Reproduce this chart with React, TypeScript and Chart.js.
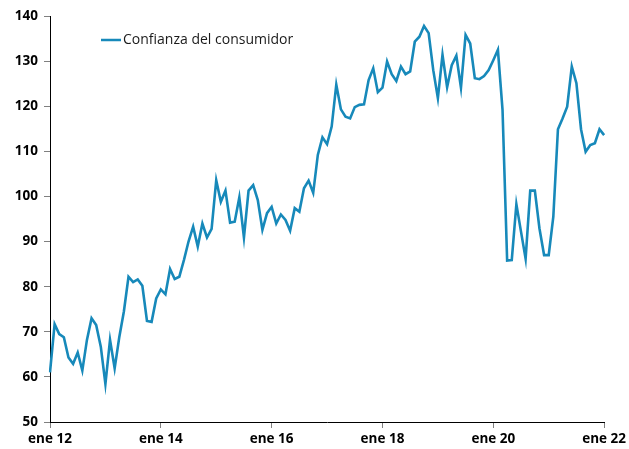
import React, { useEffect, useRef } from "react";
import { Chart, registerables } from "chart.js";

Chart.register(...registerables);

const MONTHS = ["ene", "feb", "mar", "abr", "may", "jun", "jul", "ago", "sep", "oct", "nov", "dic"];
const YEARS = [12, 13, 14, 15, 16, 17, 18, 19, 20, 21, 22];

const v2012 = [61.0, 71.7, 69.5, 68.8, 64.3, 62.9, 65.4, 61.4, 68.2, 73.0, 71.5, 66.7];
const v2013 = [58.4, 68.2, 61.9, 68.8, 74.5, 82.2, 81.0, 81.6, 80.2, 72.4, 72.2, 77.4];
const v2014 = [79.4, 78.3, 83.9, 81.7, 82.2, 85.9, 90.0, 93.3, 88.9, 94.0, 90.9, 92.8];
const v2015 = [103.6, 98.8, 101.3, 94.2, 94.4, 99.8, 90.9, 101.3, 102.5, 99.2, 92.6, 96.3];
const v2016 = [97.7, 94.0, 96.0, 94.8, 92.4, 97.4, 96.6, 101.8, 103.5, 100.8, 109.2, 113.1];
const v2017 = [111.6, 115.5, 124.8, 119.3, 117.7, 117.3, 119.8, 120.3, 120.4, 125.8, 128.4, 123.1];
const v2018 = [124.1, 129.9, 127.1, 125.6, 128.8, 127.1, 127.7, 134.3, 135.4, 137.8, 136.2, 128.0];
const v2019 = [121.8, 131.4, 124.2, 129.1, 131.2, 124.1, 135.8, 133.9, 126.2, 126.0, 126.7, 128.0];
const v2020 = [130.2, 132.5, 119.2, 85.8, 85.9, 98.3, 92.2, 86.2, 101.3, 101.3, 92.9, 87.0];
const v2021 = [87.0, 95.5, 114.9, 117.3, 119.9, 128.8, 125.1, 114.9, 109.9, 111.4, 111.8, 114.9];
const v2022 = [113.6];

const SERIES_LABEL = "Confianza del consumidor";
const LINE_COLOR = "#1789BA";

const values = [
  ...v2012, ...v2013, ...v2014, ...v2015, ...v2016, ...v2017,
  ...v2018, ...v2019, ...v2020, ...v2021, ...v2022,
];

const categories: string[] = [];
YEARS.forEach((y) => {
  MONTHS.forEach((m) => {
    if (categories.length < values.length) categories.push(`${m} ${y}`);
  });
});

const TICK_EVERY = 24;
const Y_MIN = 50;
const Y_MAX = 140;
const Y_STEP = 10;

const FONT = "'Open Sans', 'Liberation Sans', sans-serif";

const legendPlugin = {
  id: "customLegend",
  afterDraw(chart: any) {
    const ctx = chart.ctx;
    const ds = chart.data.datasets[0];
    ctx.save();
    ctx.strokeStyle = ds.borderColor;
    ctx.lineWidth = 2.5;
    ctx.beginPath();
    ctx.moveTo(101, 40);
    ctx.lineTo(121, 40);
    ctx.stroke();
    ctx.fillStyle = "#1a1a1a";
    ctx.font = `14px ${FONT}`;
    ctx.textBaseline = "middle";
    ctx.textAlign = "left";
    ctx.fillText(ds.label, 123, 40);
    ctx.restore();
  },
};

export default function App() {
  const ref = useRef<HTMLCanvasElement | null>(null);

  useEffect(() => {
    document.body.style.margin = "0";
    const canvas = ref.current;
    if (!canvas) return;
    const chart = new Chart(canvas, {
      type: "line",
      data: {
        labels: categories,
        datasets: [
          {
            label: SERIES_LABEL,
            data: values,
            borderColor: LINE_COLOR,
            backgroundColor: LINE_COLOR,
            borderWidth: 2.6,
            pointRadius: 0,
            tension: 0,
            fill: false,
          },
        ],
      },
      options: {
        animation: false,
        responsive: false,
        maintainAspectRatio: false,
        layout: { padding: { left: 0, top: 16, right: 22, bottom: 0 } },
        plugins: {
          legend: { display: false },
          tooltip: { enabled: false },
        },
        scales: {
          x: {
            type: "category",
            offset: false,
            border: { display: true, color: "#000", width: 1 },
            grid: {
              display: true,
              drawOnChartArea: false,
              drawTicks: true,
              tickLength: 6,
              color: "#808080",
            },
            afterBuildTicks(scale: any) {
              scale.ticks = scale.ticks.filter((t: any) => t.value % TICK_EVERY === 0);
            },
            afterFit(scale: any) {
              scale.height = 27;
            },
            ticks: {
              autoSkip: false,
              maxRotation: 0,
              minRotation: 0,
              padding: 3,
              color: "#000",
              font: { family: FONT, size: 13.5, weight: "bold" },
              callback(this: any, value: any) {
                return this.getLabelForValue(value);
              },
            },
          },
          y: {
            min: Y_MIN,
            max: Y_MAX,
            border: { display: true, color: "#000", width: 1 },
            grid: {
              display: true,
              drawOnChartArea: false,
              drawTicks: true,
              tickLength: 6,
              color: "#808080",
            },
            afterFit(scale: any) {
              scale.width = 50;
            },
            ticks: {
              stepSize: Y_STEP,
              padding: 6,
              color: "#000",
              font: { family: FONT, size: 13.5, weight: "bold" },
            },
          },
        },
      },
      plugins: [legendPlugin],
    });
    return () => chart.destroy();
  }, []);

  return (
    <div style={{ width: 629, height: 449, background: "#fff" }}>
      <canvas ref={ref} width={629} height={449} style={{ display: "block" }} />
    </div>
  );
}
